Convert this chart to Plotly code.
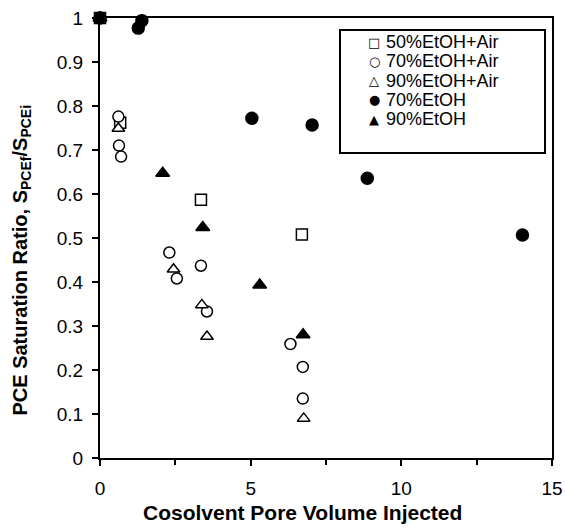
import plotly.graph_objects as go

# 50%EtOH+Air
x50air = [0, 0.67, 3.35, 6.7]
y50air = [1.0, 0.762, 0.587, 0.508]
# 70%EtOH+Air
x70air = [0, 0.61, 0.63, 0.7, 2.3, 2.55, 3.35, 3.55, 6.32, 6.73, 6.73]
y70air = [1.0, 0.776, 0.71, 0.685, 0.467, 0.408, 0.437, 0.333, 0.259, 0.207, 0.135]
# 90%EtOH+Air
x90air = [0, 0.61, 2.44, 3.38, 3.55, 6.76]
y90air = [1.0, 0.749, 0.429, 0.348, 0.276, 0.09]
# 70%EtOH
x70 = [0, 1.27, 1.39, 5.04, 7.04, 8.87, 14.02]
y70 = [1.0, 0.977, 0.994, 0.772, 0.757, 0.636, 0.507]
# 90%EtOH
x90 = [0, 2.08, 3.41, 5.3, 6.74]
y90 = [1.0, 0.647, 0.524, 0.393, 0.28]

series_names = ["50%EtOH+Air", "70%EtOH+Air", "90%EtOH+Air", "70%EtOH", "90%EtOH"]
legend_glyphs = ["\u25A1", "\u25CB", "\u25B3", "\u25CF", "\u25B2"]

W, H = 565, 529
ML, MR, MT, MB = 100, 13, 18, 71
PW, PH = W - ML - MR, H - MT - MB

def px_to_paper(px, py):
    return (px - ML) / PW, 1 - (py - MT) / PH

fig = go.Figure()

def add(x, y, name, symbol, size, filled):
    fig.add_trace(go.Scatter(
        x=x, y=y, mode="markers", name=name, showlegend=False,
        marker=dict(symbol=symbol, size=size,
                    color="black" if filled else "white",
                    line=dict(color="black", width=1.5)),
        cliponaxis=False,
    ))

add(x50air, y50air, series_names[0], "square", 11, False)
add(x70air, y70air, series_names[1], "circle", 11, False)
add(x90air, y90air, series_names[2], "triangle-up", 11, False)
add(x70, y70, series_names[3], "circle", 12, True)
add(x90, y90, series_names[4], "triangle-up", 12, True)

ARIAL = "Arial, Liberation Sans, sans-serif"

# Legend box (layout shape + text annotations)
bx0, by1 = px_to_paper(340, 30)
bx1, by0 = px_to_paper(545, 153)
shapes = [dict(type="rect", xref="paper", yref="paper", x0=bx0, x1=bx1, y0=by0, y1=by1,
               line=dict(color="black", width=2), fillcolor="white", layer="above")]
annotations = []
row_top, row_step = 42, 19.3
for i, (g, name) in enumerate(zip(legend_glyphs, series_names)):
    sx, sy = px_to_paper(374, row_top + i * row_step)
    tx, _ = px_to_paper(384, row_top + i * row_step)
    annotations.append(dict(text=g, x=sx, y=sy, xref="paper", yref="paper",
                            xanchor="center", yanchor="middle", showarrow=False,
                            font=dict(family="DejaVu Sans", size=13, color="black")))
    annotations.append(dict(text=name, x=tx, y=sy, xref="paper", yref="paper",
                            xanchor="left", yanchor="middle", showarrow=False,
                            font=dict(family=ARIAL, size=18, color="black")))

pad = "&nbsp;" * 8

fig.update_layout(
    width=W, height=H,
    margin=dict(l=ML, r=MR, t=MT, b=MB),
    paper_bgcolor="white", plot_bgcolor="white",
    font=dict(family=ARIAL, size=19, color="black"),
    showlegend=False,
    shapes=shapes,
    annotations=annotations,
    xaxis=dict(range=[0, 15], tickvals=[0, 5, 10, 15], ticks="outside", ticklen=6,
               tickwidth=2, tickcolor="black", ticklabelstandoff=6,
               tickfont=dict(family=ARIAL, size=19),
               minor=dict(tickvals=[2.5, 7.5, 12.5], ticks="outside", ticklen=5, tickwidth=2, tickcolor="black"),
               showline=True, linewidth=2, linecolor="black", mirror=True,
               showgrid=False, zeroline=False, automargin=False,
               title=dict(text="<b>Cosolvent Pore Volume Injected" + pad + "</b>", standoff=8,
                          font=dict(family=ARIAL, size=21))),
    yaxis=dict(range=[0, 1], dtick=0.1, tickformat="~g", ticks="outside", ticklen=6,
               tickwidth=2, tickcolor="black", ticklabelstandoff=5,
               tickfont=dict(family=ARIAL, size=19),
               showline=True, linewidth=2, linecolor="black", mirror=True,
               showgrid=False, zeroline=False, automargin=False,
               title=dict(text="<b>PCE Saturation Ratio, S<sub>PCEf</sub>/S<sub>PCEi</sub>" + pad + "</b>", standoff=24,
                          font=dict(family=ARIAL, size=20))),
)

fig.write_html("out.html", config={"displayModeBar": False},
               post_script="document.body.style.margin='0';")
